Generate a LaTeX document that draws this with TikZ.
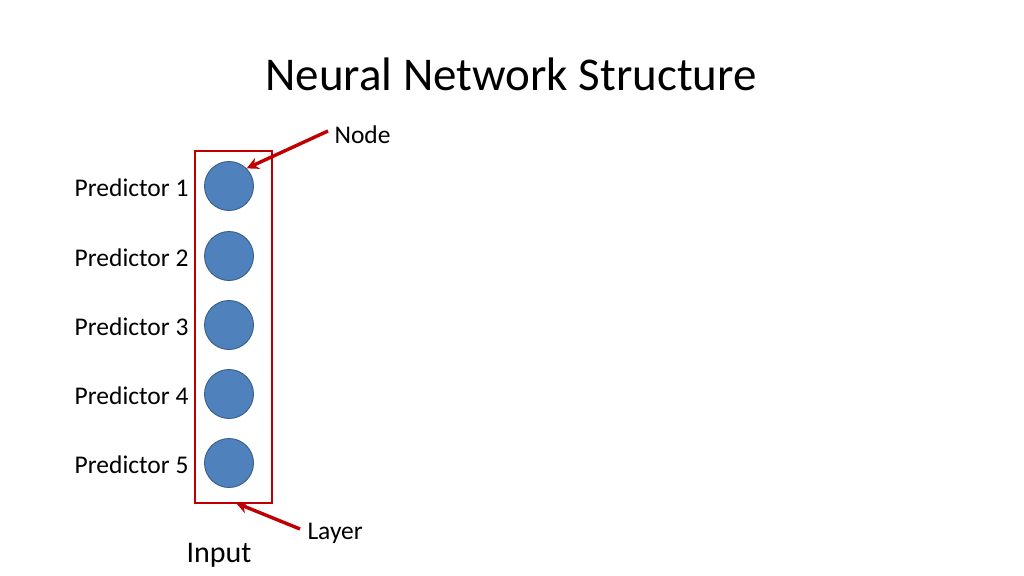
\documentclass[tikz,border=0pt]{standalone}
\usepackage{fontspec}
\setmainfont{Carlito}
\usetikzlibrary{arrows.meta, positioning}

\begin{document}
\begin{tikzpicture}[x=1pt, y=-1pt,
    neuron/.style={circle, minimum size=49pt, inner sep=0pt, fill=nodeblue, draw=nodeedge, line width=0.9pt},
    predlabel/.style={anchor=east, font=\fontsize{25.5}{28}\selectfont},
    callout/.style={font=\fontsize{25.5}{28}\selectfont},
    pointer/.style={draw=layerred, line width=3.4pt, -{Stealth[length=12pt, width=12pt]}}]

% ------------------------
% Colors
% ------------------------
\definecolor{nodeblue}{RGB}{79,129,189}
\definecolor{nodeedge}{RGB}{56,93,138}
\definecolor{layerred}{RGB}{192,0,0}

% canvas
\useasboundingbox (0,0) rectangle (1024,575);

% title
\node[font=\fontsize{47}{52}\selectfont] (title) at (511,74) {Neural Network Structure};

% ------------------------
% input layer
% ------------------------
\draw[layerred, line width=1.8pt] (195,151) rectangle (272,503);
\coordinate (layerbot) at (236,503);

\foreach \i/\y in {1/186,2/256,3/325,4/394,5/463} {
    \node[neuron] (p\i) at (229,\y) {};
    \node[predlabel] (lab\i) at (192,\y+2) {Predictor \i};
}

% callouts
\node[callout, anchor=west] (nodetxt) at (331,135) {Node};
\node[callout, anchor=west] (layertxt) at (304,533) {Layer};
\draw[pointer] (nodetxt.west) ++(-3,-4) -- (p1.north east);
\draw[pointer] (layertxt.west) ++(-4,-4) -- (layerbot);

\node[font=\fontsize{30}{34}\selectfont] (inputtxt) at (219,555) {Input};

\end{tikzpicture}
\end{document}
